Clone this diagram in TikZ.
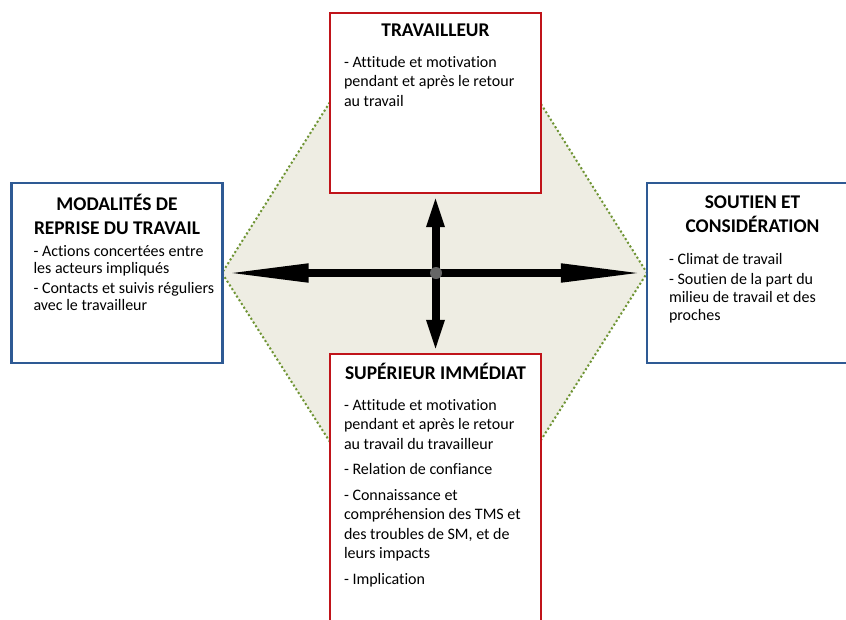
\documentclass[tikz,border=0pt]{standalone}
\usepackage{fontspec}
\setmainfont{Carlito}[Ligatures=NoCommon]
\usetikzlibrary{positioning,arrows.meta}
\definecolor{boxred}{HTML}{C0141A}
\definecolor{boxblue}{HTML}{2E5A94}
\definecolor{hexbeige}{HTML}{EEEDE3}
\definecolor{hexgreen}{HTML}{6E9433}
\tikzset{
  redbox/.style={draw=boxred, line width=2.4pt, fill=white, inner sep=0pt, minimum width=211pt},
  bluebox/.style={draw=boxblue, line width=2.4pt, fill=white, inner sep=0pt, minimum width=211pt, minimum height=180pt},
  boxtitle/.style={inner sep=0pt, align=center, font={\fontsize{19.4}{24}\selectfont\bfseries}},
  boxbody/.style={inner sep=0pt, align=left, font={\fontsize{16}{19.5}\selectfont}},
  sidebody/.style={boxbody, font={\fontsize{16}{17.8}\selectfont}},
  hexline/.style={hexgreen, line width=2pt, dash pattern=on 2pt off 2.4pt},
  haxis/.style={line width=8pt, {Triangle[length=85pt,width=17pt]}-{Triangle[length=85pt,width=17pt]}},
  vaxis/.style={line width=8pt, {Triangle[length=33pt,width=16pt]}-{Triangle[length=33pt,width=16pt]}}
}

\begin{document}
\begin{tikzpicture}[x=1pt,y=-1pt]
		%%%%% START %%%%%
		\clip (0,0) rectangle (846,619);
		\fill[white] (0,0) rectangle (846,619);
		
		% boxes positions
		\coordinate (topc) at (435.5,103);
		\coordinate (leftc) at (117,273);
		\coordinate (rightc) at (752.5,273);
		\coordinate (bottomc) at (435.5,504);
		
		% hexagon behind
		\coordinate (hexNW) at (330,102);
		\coordinate (hexNE) at (541,104);
		\coordinate (hexSE) at (541,440);
		\coordinate (hexSW) at (330,442);
		\coordinate (hexW) at (222,273);
		\coordinate (hexE) at (647,273);
		\fill[hexbeige] (hexW) -- (hexNW) -- (hexNE) -- (hexE) -- (hexSE) -- (hexSW) -- cycle;
		\draw[hexline] (hexSW) -- (hexW) -- (hexNW);
		\draw[hexline] (hexNE) -- (hexE) -- (hexSE);
		
		\node[redbox, minimum height=180pt] (top) at (topc) {};
		\node[bluebox] (left) at (leftc) {};
		\node[bluebox] (right) at (rightc) {};
		\node[redbox, minimum height=300pt] (bottom) at (bottomc) {};
		
		% cross
		\node[circle, fill=black!60, inner sep=0pt, minimum size=12pt] (hub) at (436,273) {};
		\draw[haxis] (left.east) -- (right.west);
		\draw[vaxis] (top.south) -- (bottom.north);
		\node[circle, fill=black!60, inner sep=0pt, minimum size=12pt] at (hub) {};
		
		% texts
		\node[boxtitle, below=12pt of top.north] (topTitle) {TRAVAILLEUR};
		\node[boxbody, below right=44pt and 15pt of top.north west] (topBody)
		{- Attitude et motivation\\pendant et après le retour\\au travail};
		
		\node[boxtitle, below=12pt of left.north] (leftTitle) {MODALITÉS DE\\REPRISE DU TRAVAIL};
		\node[sidebody, below right=63pt and 23pt of left.north west] (leftBody)
		{- Actions concertées entre\\les acteurs impliqués\\[1.5pt]- Contacts et suivis réguliers\\avec le travailleur};
		
		\node[boxtitle, below=14pt of right.north] (rightTitle) {SOUTIEN ET\\CONSIDÉRATION};
		\node[sidebody, below right=71pt and 23pt of right.north west] (rightBody)
		{- Climat de travail\\[2.5pt]- Soutien de la part du\\milieu de travail et des\\proches};
		
		\node[boxtitle, below=10pt of bottom.north] (bottomTitle) {SUPÉRIEUR IMMÉDIAT};
		\node[boxbody, below right=46pt and 15pt of bottom.north west] (bottomBody)
		{- Attitude et motivation\\pendant et après le retour\\au travail du travailleur\\[6pt]- Relation de confiance\\[6pt]- Connaissance et\\compréhension des TMS et\\des troubles de SM, et de\\leurs impacts\\[6pt]- Implication};
		%%%%% END %%%%%
\end{tikzpicture}
\end{document}
